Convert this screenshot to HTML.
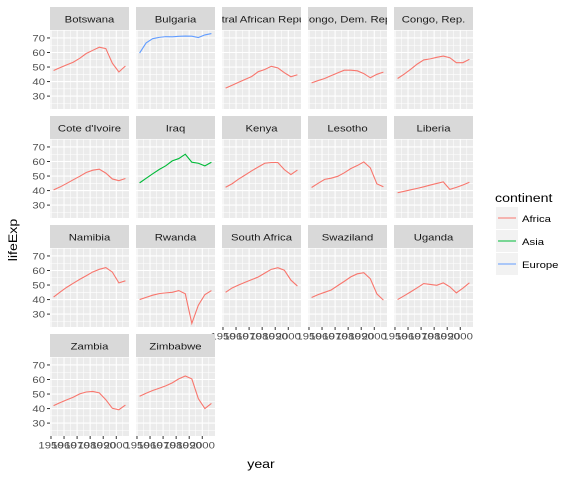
<!DOCTYPE html>
<html><head><meta charset="utf-8"><style>
html,body{margin:0;padding:0;background:#fff;}
svg text{font-family:"Liberation Sans",sans-serif;}
</style></head><body>
<svg id="c" width="576" height="480" xmlns="http://www.w3.org/2000/svg"></svg>
<script>
const years = [1952,1957,1962,1967,1972,1977,1982,1987,1992,1997,2002,2007];
const countries = ["Botswana","Bulgaria","Central African Republic","Congo, Dem. Rep.","Congo, Rep.","Cote d'Ivoire","Iraq","Kenya","Lesotho","Liberia","Namibia","Rwanda","South Africa","Swaziland","Uganda","Zambia","Zimbabwe"];
const continents = ["Africa","Europe","Africa","Africa","Africa","Africa","Asia","Africa","Africa","Africa","Africa","Africa","Africa","Africa","Africa","Africa","Africa"];
const botswana = [47.6,49.6,51.5,53.3,56.0,59.3,61.5,63.6,62.7,52.6,46.6,50.7];
const bulgaria = [59.6,66.6,69.5,70.4,70.9,70.8,71.1,71.3,71.2,70.3,72.1,73.0];
const car = [35.5,37.5,39.5,41.5,43.5,46.8,48.3,50.5,49.4,46.1,43.3,44.7];
const congoDR = [39.1,40.7,42.1,44.1,46.0,47.8,47.8,47.4,45.5,42.6,45.0,46.5];
const congoR = [42.1,45.1,48.4,52.0,54.9,55.6,56.7,57.5,56.4,53.0,53.0,55.3];
const coteIvoire = [40.5,42.5,44.9,47.4,49.8,52.4,54.0,54.7,52.0,48.0,46.8,48.3];
const iraq = [45.3,48.4,51.5,54.5,57.0,60.4,62.0,65.0,59.5,58.8,57.0,59.5];
const kenya = [42.3,44.7,47.9,50.7,53.6,56.2,58.8,59.3,59.3,54.4,51.0,54.1];
const lesotho = [42.1,45.0,47.7,48.5,49.8,52.2,55.1,57.2,59.7,55.6,44.6,42.6];
const liberia = [38.5,39.5,40.5,41.5,42.6,43.8,44.9,46.0,40.8,42.2,43.8,45.7];
const namibia = [41.7,45.2,48.4,51.2,53.9,56.4,59.0,60.8,62.0,58.9,51.5,52.9];
const rwanda = [40.0,41.5,43.0,44.1,44.6,45.0,46.2,44.0,23.6,36.1,43.4,46.2];
const southAfrica = [45.0,48.0,50.0,51.9,53.7,55.5,58.2,60.8,61.9,60.2,53.4,49.3];
const swaziland = [41.4,43.4,45.0,46.6,49.6,52.5,55.6,57.7,58.5,54.3,43.9,39.6];
const uganda = [40.0,42.6,45.3,48.1,51.0,50.4,49.8,51.5,48.8,44.6,47.8,51.5];
const zambia = [42.0,44.1,46.0,47.8,50.1,51.4,51.8,50.8,46.1,40.2,39.2,42.4];
const zimbabwe = [48.5,50.5,52.4,54.0,55.6,57.7,60.4,62.4,60.4,46.8,40.0,43.5];
const seriesList = [botswana,bulgaria,car,congoDR,congoR,coteIvoire,iraq,kenya,lesotho,liberia,namibia,rwanda,southAfrica,swaziland,uganda,zambia,zimbabwe];
const yTicks = [30,40,50,60,70];
const xTicks = [1950,1960,1970,1980,1990,2000];
const legendLabels = ["Africa","Asia","Europe"];
const colors = {Africa:"#F8766D",Asia:"#00BA38",Europe:"#619CFF"};

const NS="http://www.w3.org/2000/svg";
const svg=document.getElementById('c');
const SX=1.18;
function mk(tag,attrs,parent){const e=document.createElementNS(NS,tag);for(const k in attrs)e.setAttribute(k,attrs[k]);(parent||svg).appendChild(e);return e;}
function txt(x,y,s,attrs,parent){const a=Object.assign({x:0,y:0,transform:'translate('+x+','+y+') scale('+SX+',1)'},attrs);const t=mk('text',a,parent);t.textContent=s;return t;}

const allVals=seriesList.flat();
const yMin=Math.min(...allVals), yMax=Math.max(...allVals);
const yLo=yMin-(yMax-yMin)*0.05, yHi=yMax+(yMax-yMin)*0.05;
const xMin=Math.min(...years), xMax=Math.max(...years);
const xLo=xMin-(xMax-xMin)*0.05, xHi=xMax+(xMax-xMin)*0.05;
const PW=79, PH=79, SH=23, colX=[50,136,222,308,394], rowY=[7,116,225,334];
function sx(px,v){return px+(v-xLo)/(xHi-xLo)*PW;}
function sy(py,v){return py+PH-(v-yLo)/(yHi-yLo)*PH;}

const defs=mk('defs',{});
countries.forEach((name,i)=>{
  const col=i%5,row=Math.floor(i/5);
  const px=colX[col], top=rowY[row], py=top+SH;
  const g=mk('g',{});
  
  
  const cp=mk('clipPath',{id:'cp'+i},defs);
  mk('rect',{x:px,y:top,width:PW,height:SH},cp);
  const strip=mk('rect',{x:px,y:top,width:PW,height:SH,fill:'#d9d9d9'},g);
  
  
  const sg=mk('g',{'clip-path':'url(#cp'+i+')'},g);
  const st=txt(px+PW/2,top+15.5,name,{'text-anchor':'middle','font-size':'9.6',fill:'#1a1a1a'},sg);
  
  
  mk('rect',{x:px,y:py,width:PW,height:PH,fill:'#ebebeb'},g);
  for(let v=25;v<=75;v+=5){const y=sy(py,v);if(y<py||y>py+PH)continue;
    mk('line',{x1:px,x2:px+PW,y1:y,y2:y,stroke:'#fff','stroke-width':v%10===0?1.1:0.55},g);}
  for(let v=1945;v<=2010;v+=5){const x=sx(px,v);if(x<px||x>px+PW)continue;
    mk('line',{x1:x,x2:x,y1:py,y2:py+PH,stroke:'#fff','stroke-width':v%10===0?1.1:0.55},g);}
  const d=years.map((yr,k)=>(k?'L':'M')+sx(px,yr).toFixed(2)+','+sy(py,seriesList[i][k]).toFixed(2)).join('');
  const ln=mk('path',{d:d,fill:'none',stroke:colors[continents[i]],'stroke-width':1.1},g);
  
  
  if(col===0){yTicks.forEach(v=>{const y=sy(py,v);
    mk('line',{x1:px-3,x2:px,y1:y,y2:y,stroke:'#333','stroke-width':1},g);
    const t=txt(px-5,y+3.5,String(v),{'text-anchor':'end','font-size':'9.6',fill:'#4d4d4d'},g);
    
    });}
  const bottom = (i+5>=countries.length);
  if(bottom){xTicks.forEach(v=>{const x=sx(px,v);
    mk('line',{x1:x,x2:x,y1:py+PH,y2:py+PH+3,stroke:'#333','stroke-width':1},g);
    const t=txt(x,py+PH+12.5,String(v),{'text-anchor':'middle','font-size':'9.6',fill:'#4d4d4d'},g);
    
    });}
});
const xt=txt(261,468,'year',{'text-anchor':'middle','font-size':'12',fill:'#000'});


const yt=mk('text',{x:0,y:0,transform:'translate(17,240) rotate(-90) scale('+SX+',1)','text-anchor':'middle','font-size':'12',fill:'#000'});yt.textContent='lifeExp';


const lg=mk('g',{});


const lt=txt(495,202,'continent',{'font-size':'12',fill:'#000'},lg);


legendLabels.forEach((lab,k)=>{const y=207+k*23;
  const e=mk('g',{},lg);
  
  
  mk('rect',{x:496,y:y,width:22,height:22,fill:'#f2f2f2'},e);
  mk('line',{x1:498,x2:516,y1:y+11,y2:y+11,stroke:colors[lab],'stroke-width':1.1},e);
  txt(522,y+15,lab,{'font-size':'9.6',fill:'#000'},e);});
</script>
</body></html>
